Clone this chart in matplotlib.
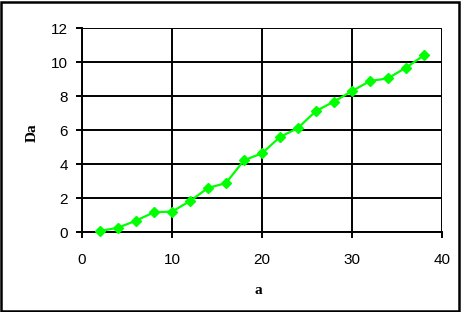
import matplotlib
matplotlib.use("Agg")
import matplotlib.pyplot as plt
from matplotlib.patches import Rectangle

a = [2, 4, 6, 8, 10, 12, 14, 16, 18, 20, 22, 24, 26, 28, 30, 32, 34, 36, 38]
Da = [0.06, 0.25, 0.67, 1.16, 1.20, 1.82, 2.59, 2.88, 4.22, 4.63, 5.59, 6.12,
      7.12, 7.67, 8.29, 8.88, 9.04, 9.67, 10.39]
xticks = [0, 10, 20, 30, 40]
yticks = [0, 2, 4, 6, 8, 10, 12]

W, H = 461, 312
fig = plt.figure(figsize=(W / 100, H / 100), dpi=100)
fig.patch.set_facecolor("white")
fig.patches.append(Rectangle((1.0 / W, 1.5 / H), 1 - 3.0 / W, 1 - 3.0 / H,
                             transform=fig.transFigure, fill=False,
                             edgecolor="black", linewidth=1.8))

ax = fig.add_axes([82 / W, (H - 232) / H, 360 / W, 204 / H])
ax.plot(a, Da, color="#00ff00", linewidth=1.6, marker="D", markersize=5.5,
        markeredgecolor="#00ff00", markerfacecolor="#00ff00", zorder=3, clip_on=False)
ax.set_xlim(0, 40)
ax.set_ylim(0, 12)
ax.set_xticks(xticks)
ax.set_yticks(yticks)
ax.grid(True, color="black", linewidth=1.4)
for s in ["top", "right"]:
    ax.spines[s].set_visible(False)
for s in ["left", "bottom"]:
    ax.spines[s].set_linewidth(1.4)
ax.tick_params(direction="out", length=4, width=1.4, labelsize=11,
               colors="black")
ax.tick_params(axis="x", pad=11)
ax.tick_params(axis="y", pad=6)
for lbl in ax.get_xticklabels() + ax.get_yticklabels():
    lbl.set_fontfamily("Liberation Sans")

fig.text(258 / W, 1 - 290 / H, "a", fontfamily="Liberation Serif",
         fontweight="bold", fontsize=11, ha="center", va="center")
fig.text(32 / W, 1 - 133 / H, "Da", fontfamily="Liberation Serif",
         fontweight="bold", fontsize=11, ha="center", va="center", rotation=90)

fig.savefig("out.png", dpi=100)
